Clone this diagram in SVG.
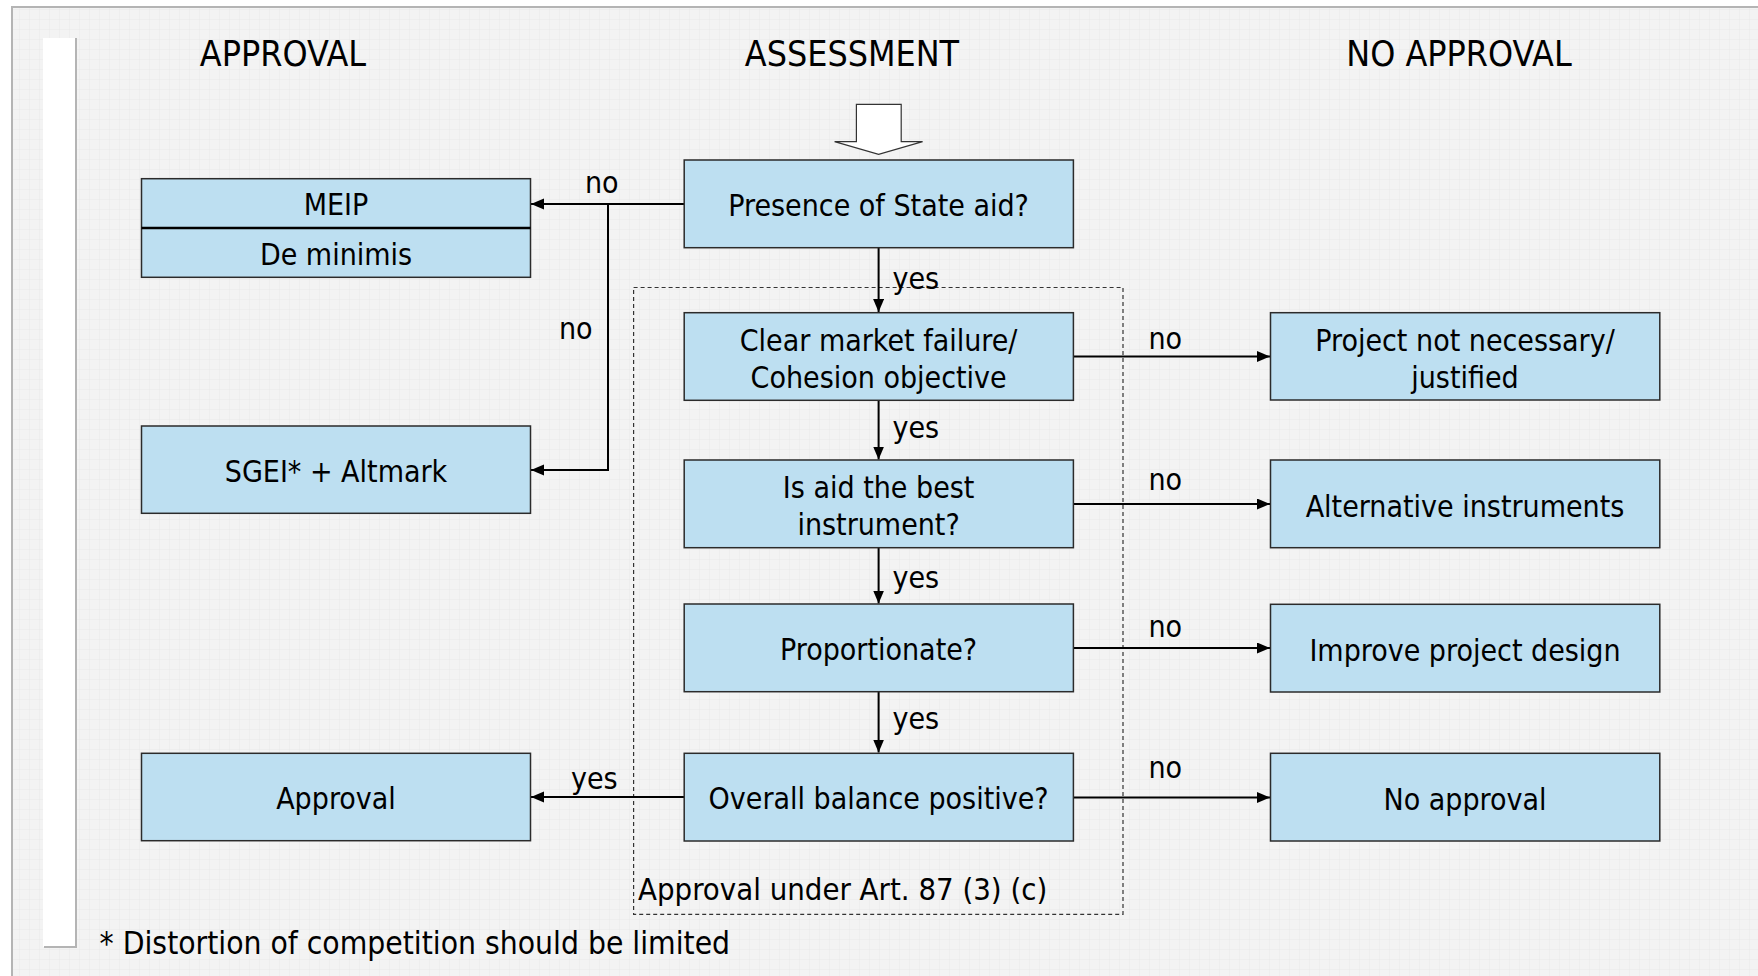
<svg xmlns="http://www.w3.org/2000/svg" width="1758" height="976" viewBox="0 0 1758 976">
<defs>
<pattern id="grid" width="10" height="10" patternUnits="userSpaceOnUse">
<rect width="10" height="10" fill="#f3f3f3"/>
<path d="M10 0V10M0 10H10" stroke="#e9e9e9" stroke-width="1" fill="none"/>
</pattern>
<marker id="ah" markerUnits="userSpaceOnUse" markerWidth="14" markerHeight="12" refX="13" refY="5.5" orient="auto">
<path d="M0,0 L13,5.5 L0,11 z" fill="#000"/>
</marker>
<style>
text{font-family:"DejaVu Sans Condensed","DejaVu Sans",sans-serif;font-stretch:condensed;fill:#000}
.hdr{font-size:35.5px;text-anchor:middle}
.bt{font-size:30px;text-anchor:middle}
.lb{font-size:30px}
.box{fill:#bddff1;stroke:#2b2b2b;stroke-width:1.5}
.cn{stroke:#000;stroke-width:2;fill:none}
.ar{marker-end:url(#ah)}
</style>
</defs>
<rect x="0" y="0" width="1758" height="976" fill="#fff"/>
<rect x="12" y="7" width="1770" height="990" fill="url(#grid)" stroke="#b4b4b4" stroke-width="2"/>
<g id="sidebar">
<rect x="43" y="38" width="33" height="909" fill="#fff"/>
<path d="M76 38V947H44" stroke="#b4b4b4" stroke-width="2" fill="none"/>
</g>
<g id="headers">
<text class="hdr" x="283" y="66">APPROVAL</text>
<text class="hdr" x="852" y="66">ASSESSMENT</text>
<text class="hdr" x="1459" y="66">NO APPROVAL</text>
</g>
<g id="start-arrow">
<path d="M856.4 104.3H901.2V141.7H922.6L878.6 154.3L834.6 141.7H856.4Z" fill="#fff" stroke="#333" stroke-width="1.2"/>
</g>
<g id="scope">
<rect x="633.6" y="287.5" width="489.4" height="626.8" fill="none" stroke="#333" stroke-width="1.2" stroke-dasharray="4,3"/>
<text class="lb" x="638" y="900" style="font-size:30.8px">Approval under Art. 87 (3) (c)</text>
</g>
<g id="connectors">
<path class="cn ar" d="M684 204H531"/>
<path class="cn ar" d="M608 204V470H531"/>
<path class="cn ar" d="M878.6 248V312"/>
<path class="cn ar" d="M878.6 400V459.5"/>
<path class="cn ar" d="M878.6 548V603.5"/>
<path class="cn ar" d="M878.6 692V752.5"/>
<path class="cn ar" d="M684 797H531"/>
<path class="cn ar" d="M1073 356.5H1270"/>
<path class="cn ar" d="M1073 504H1270"/>
<path class="cn ar" d="M1073 648H1270"/>
<path class="cn ar" d="M1073 797.5H1270"/>
<text class="lb" x="585" y="193">no</text>
<text class="lb" x="559" y="339">no</text>
<text class="lb" x="892.5" y="288.5">yes</text>
<text class="lb" x="892.5" y="437.5">yes</text>
<text class="lb" x="892.5" y="588">yes</text>
<text class="lb" x="892.5" y="729">yes</text>
<text class="lb" x="571" y="789">yes</text>
<text class="lb" x="1148.5" y="349">no</text>
<text class="lb" x="1148.5" y="490">no</text>
<text class="lb" x="1148.5" y="637">no</text>
<text class="lb" x="1148.5" y="778">no</text>
</g>
<g id="meip">
<rect class="box" x="141.5" y="178.7" width="389" height="98.6"/>
<path d="M141.5 228H530.5" stroke="#000" stroke-width="2.5"/>
<text class="bt" x="336" y="215">MEIP</text>
<text class="bt" x="336" y="264.5">De minimis</text>
</g>
<g id="sgei">
<rect class="box" x="141.5" y="426" width="389" height="87.3"/>
<text class="bt" x="336" y="482">SGEI* + Altmark</text>
</g>
<g id="approval">
<rect class="box" x="141.5" y="753.3" width="389" height="87.4"/>
<text class="bt" x="336" y="809">Approval</text>
</g>
<g id="presence">
<rect class="box" x="684.2" y="160" width="389.2" height="87.7"/>
<text class="bt" x="878.6" y="215.5">Presence of State aid?</text>
</g>
<g id="market-failure">
<rect class="box" x="684.2" y="312.7" width="389.2" height="87.6"/>
<text class="bt" x="878.6" y="350.5">Clear market failure/</text>
<text class="bt" x="878.6" y="387.5">Cohesion objective</text>
</g>
<g id="best-instrument">
<rect class="box" x="684.2" y="460" width="389.2" height="87.7"/>
<text class="bt" x="878.6" y="497.5">Is aid the best</text>
<text class="bt" x="878.6" y="534.5">instrument?</text>
</g>
<g id="proportionate">
<rect class="box" x="684.2" y="604" width="389.2" height="87.7"/>
<text class="bt" x="878.6" y="660">Proportionate?</text>
</g>
<g id="overall">
<rect class="box" x="684.2" y="753.3" width="389.2" height="87.7"/>
<text class="bt" x="878.6" y="809">Overall balance positive?</text>
</g>
<g id="not-necessary">
<rect class="box" x="1270.5" y="312.7" width="389.3" height="87.3"/>
<text class="bt" x="1465" y="350.5">Project not necessary/</text>
<text class="bt" x="1465" y="387.5">justified</text>
</g>
<g id="alternative">
<rect class="box" x="1270.5" y="460" width="389.3" height="87.7"/>
<text class="bt" x="1465" y="516.5">Alternative instruments</text>
</g>
<g id="improve">
<rect class="box" x="1270.5" y="604.3" width="389.3" height="87.7"/>
<text class="bt" x="1465" y="661">Improve project design</text>
</g>
<g id="no-approval">
<rect class="box" x="1270.5" y="753.3" width="389.3" height="87.7"/>
<text class="bt" x="1465" y="809.5">No approval</text>
</g>
<g id="footnote">
<text class="lb" x="99.5" y="953.5" style="font-size:31.5px">* Distortion of competition should be limited</text>
</g>
</svg>
